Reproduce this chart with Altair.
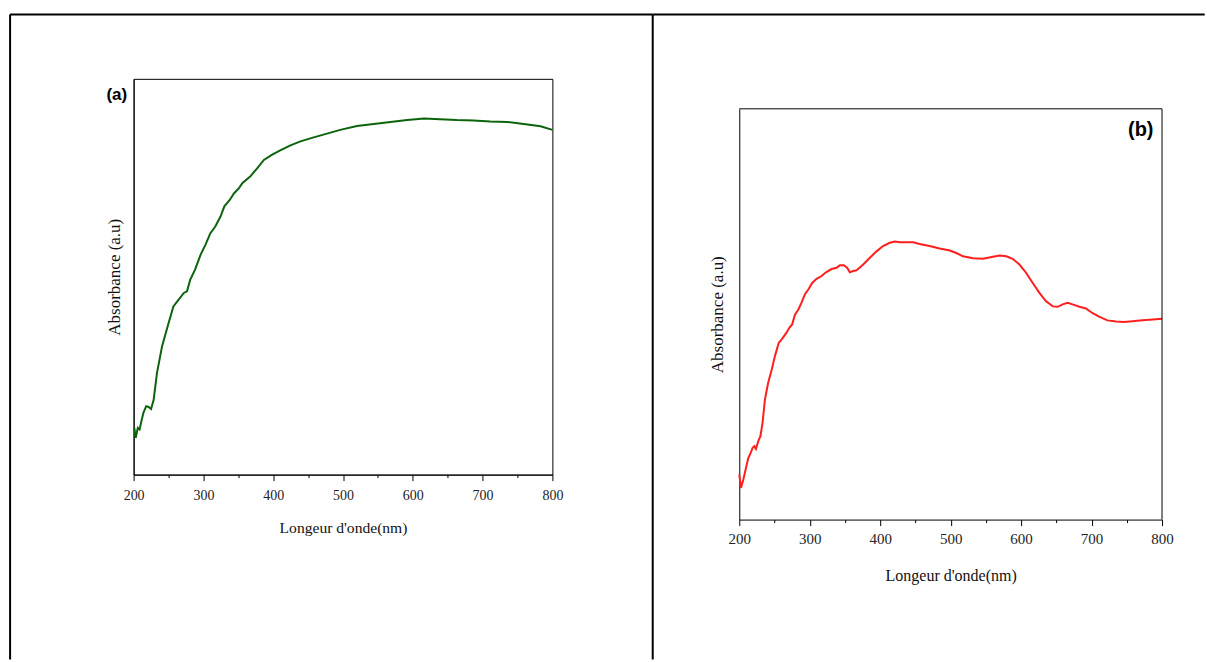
import altair as alt
import pandas as pd

# ---------------- data ----------------
wl_a = [201, 203, 206, 208.6, 210.5, 214, 218, 221.5, 225, 228.7, 233.5, 240.7, 248.8, 257,
        264.5, 272, 276.5, 281, 288, 296, 303, 310, 317, 324.5, 330, 337.7, 344, 351, 356,
        367, 377, 386.6, 398, 410, 424.7, 439, 458, 472, 496, 520, 544, 568, 592, 616, 639,
        663, 687, 711, 735, 759, 783, 800]
abs_a = [11.8, 9.3, 11.8, 11.4, 13.0, 15.6, 17.3, 17.1, 16.6, 18.9, 25.7, 32.4, 37.5, 42.5,
         44.2, 45.9, 46.3, 49.2, 51.8, 55.6, 58.1, 61.0, 62.7, 65.2, 67.8, 69.4, 71.1, 72.4,
         73.7, 75.3, 77.4, 79.5, 80.8, 81.9, 83.2, 84.2, 85.2, 85.9, 87.1, 88.1, 88.6, 89.1,
         89.6, 90.0, 89.8, 89.6, 89.5, 89.2, 89.1, 88.6, 88.0, 87.1]

wl_b = [200, 202.4, 205.7, 209, 212.8, 216, 219, 221.3, 223.6, 227, 230, 233, 236.4, 241, 246,
        250.6, 256, 261.5, 267, 271, 275, 279, 283.7, 288.4, 293, 298, 303.5, 309.7, 316.8,
        323, 331, 338, 342.8, 348.5, 353, 357, 361.7, 366.4, 375.9, 385, 394.8, 404, 413.7,
        420.8, 428, 437, 446.8, 456, 470, 484.4, 498.8, 508, 517.5, 531.7, 546, 560, 569.7,
        579, 588, 597.6, 607, 616.5, 626, 635, 645, 652, 659, 666, 673, 682.7, 692, 701,
        710.6, 722.5, 734.5, 746, 758, 772, 787, 800]
abs_b = [11.0, 7.7, 9.7, 12.2, 15.0, 16.2, 17.5, 17.9, 17.2, 19.1, 20.3, 23.5, 29.2, 33.3,
         36.5, 39.8, 43.0, 44.2, 45.5, 46.7, 47.5, 49.9, 51.1, 52.8, 54.8, 56.0, 57.6, 58.6,
         59.3, 60.2, 61.0, 61.3, 61.9, 61.9, 61.3, 60.2, 60.5, 60.7, 62.1, 63.7, 65.3, 66.6,
         67.4, 67.7, 67.5, 67.5, 67.5, 67.1, 66.6, 66.0, 65.5, 64.9, 64.1, 63.6, 63.5, 64.0,
         64.3, 64.1, 63.5, 62.1, 60.1, 57.6, 55.2, 53.2, 51.9, 51.8, 52.4, 52.8, 52.4, 51.8,
         51.4, 50.3, 49.4, 48.5, 48.2, 48.1, 48.3, 48.5, 48.7, 48.9]

x_ticks = list(range(200, 801, 50))
x_title = "Longeur d'onde(nm)"
y_title = "Absorbance (a.u)"
labels = ["(a)", "(b)"]

df_a = pd.DataFrame({"wl": wl_a, "abs": abs_a})
df_b = pd.DataFrame({"wl": wl_b, "abs": abs_b})

SERIF = "Liberation Serif"
SANS = "Liberation Sans"

# ---------------- layout constants (pixels) ----------------
A_X0, A_Y0, A_W, A_H = 133.3, 79, 419, 396
B_X0, B_W = 739.3, 423
B_TOP, B_BOT = 109, 520          # visible frame of panel (b)
B_Y0 = A_Y0                      # both panels share the same origin row
B_H = B_BOT - B_Y0
B_OFF = B_TOP - B_Y0
FRAME_TOP = 14.7
FRAME_LEFT = 9.7
DIVIDER = 652.7
BOTTOM = 661
RIGHT = 1206


def x_axis(label_size, label_pad, title_size, title_pad):
    return alt.Axis(
        values=x_ticks,
        labelExpr="datum.value % 100 === 0 ? datum.value : ''",
        tickSize={"condition": {"test": "datum.value % 100 === 0", "value": 6}, "value": 3},
        tickColor="black", domainColor="black", grid=False,
        labelFont=SERIF, labelFontSize=label_size, labelColor="#222222",
        labelPadding=label_pad, labelFlush=False,
        titleFont=SERIF, titleFontSize=title_size, titleFontWeight="normal",
        titleColor="#111111", titlePadding=title_pad,
    )


def y_axis(title_size, title_pad):
    return alt.Axis(
        labels=False, ticks=False, grid=False, domainColor="black",
        titleFont=SERIF, titleFontSize=title_size, titleFontWeight="normal",
        titleColor="#111111", titlePadding=title_pad,
    )


one = alt.Data(values=[{"k": 1}])


def rule(x1, x2, y1, y2, w=2):
    return alt.Chart(one).mark_rule(color="black", strokeWidth=w).encode(
        x=alt.value(x1), x2=alt.value(x2), y=alt.value(y1), y2=alt.value(y2))


# ---------------- panel (a) ----------------
line_a = alt.Chart(df_a).mark_line(color="#0b640b", strokeWidth=2).encode(
    x=alt.X("wl:Q", scale=alt.Scale(domain=[200, 800], nice=False),
            axis=x_axis(14, 8, 15.6, 18), title=x_title),
    y=alt.Y("abs:Q", scale=alt.Scale(domain=[0, 100], nice=False),
            axis=y_axis(17, 10), title=y_title),
)
ax_left = FRAME_LEFT - A_X0
ax_top = FRAME_TOP - A_Y0
top_a = rule(ax_left, DIVIDER - A_X0, ax_top, ax_top)
left_a = rule(ax_left, ax_left, ax_top, BOTTOM - A_Y0 - 1)
lab_a = alt.Chart(one).mark_text(text=labels[0], font=SANS, fontWeight="bold", fontSize=17,
                                 align="center", baseline="middle", color="black").encode(
    x=alt.value(116.5 - A_X0), y=alt.value(95.3 - A_Y0))
panel_a = alt.layer(line_a, top_a, left_a, lab_a).properties(width=A_W, height=A_H)

# ---------------- panel (b) ----------------
line_b = alt.Chart(df_b).mark_line(color="#ff1e1e", strokeWidth=2).encode(
    x=alt.X("wl:Q", scale=alt.Scale(domain=[200, 800], nice=False),
            axis=x_axis(15, 6, 16, 21), title=x_title),
    y=alt.Y("abs:Q", scale=alt.Scale(domain=[0, 100], nice=False, range=[B_H, B_OFF]),
            axis=y_axis(17, 13), title=y_title),
)
bx_div = DIVIDER - B_X0
by_top = FRAME_TOP - B_Y0
top_b = rule(bx_div, RIGHT - B_X0 - 1, by_top, by_top)
div_b = rule(bx_div, bx_div, by_top, BOTTOM - B_Y0 - 1)
box_top_b = rule(0, B_W, B_OFF, B_OFF, w=1)
box_right_b = rule(B_W, B_W, B_OFF, B_H, w=1)
lab_b = alt.Chart(one).mark_text(text=labels[1], font=SANS, fontWeight="bold", fontSize=20,
                                 align="center", baseline="middle", color="black").encode(
    x=alt.value(1141 - B_X0), y=alt.value(130.3 - B_Y0))
panel_b = alt.layer(line_b, box_top_b, box_right_b, top_b, div_b, lab_b).properties(
    width=B_W, height=B_H, view=alt.ViewBackground(stroke="transparent"))

chart = alt.hconcat(panel_a, panel_b, spacing=-4).configure_view(
    stroke="black", strokeWidth=1
).properties(
    padding={"left": 7.7, "top": 12.7, "right": 0, "bottom": 0},
    background="white",
)

chart.save("out.html", embed_options={"renderer": "svg", "actions": False})
